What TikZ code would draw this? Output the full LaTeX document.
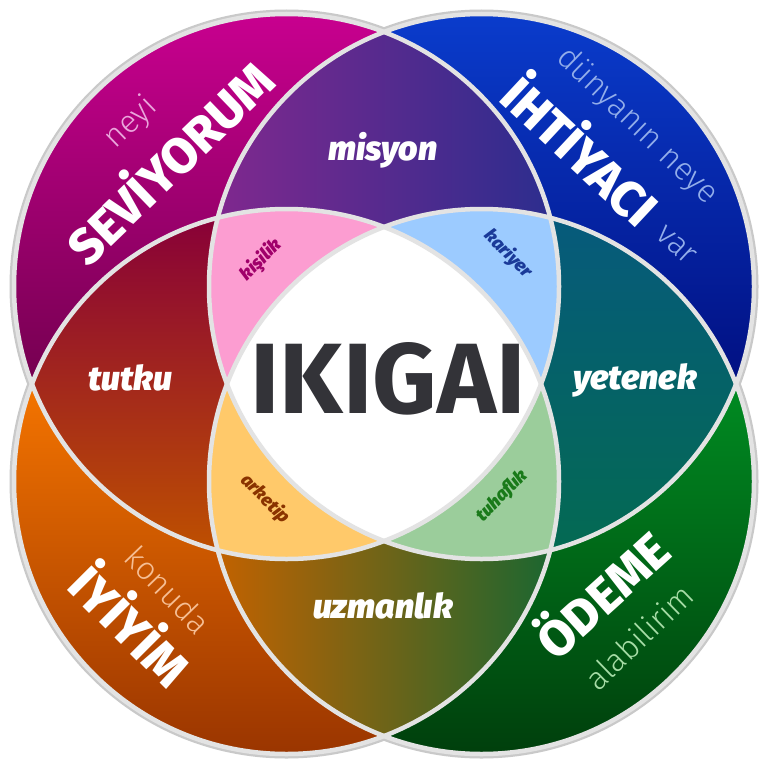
\documentclass[tikz,border=0pt]{standalone}
\usepackage{fontspec}
\setmainfont{Fira Sans}
\newfontfamily\thinfont{Fira Sans Light}
\newfontfamily\heavyfont{Fira Sans ExtraBold}
\newfontfamily\blackfont{Fira Sans Black}
\definecolor{ringshadow}{HTML}{C9C9C9}
\definecolor{linegrey}{HTML}{E3E3E3}
\definecolor{tlTop}{HTML}{C8008F}
\definecolor{tlBot}{HTML}{6A0048}
\definecolor{trTop}{HTML}{0A3CCC}
\definecolor{trBot}{HTML}{000A78}
\definecolor{blTop}{HTML}{F57500}
\definecolor{blBot}{HTML}{9A3500}
\definecolor{brTop}{HTML}{008C22}
\definecolor{brBot}{HTML}{003F0C}
\definecolor{misL}{HTML}{80288E}
\definecolor{misM}{HTML}{6636A0}
\definecolor{misR}{HTML}{2C2D8E}
\definecolor{tutT}{HTML}{880038}
\definecolor{tutM}{HTML}{A00000}
\definecolor{tutB}{HTML}{BE5000}
\definecolor{yetT}{HTML}{065A7C}
\definecolor{yetM}{HTML}{00706A}
\definecolor{yetB}{HTML}{046A52}
\definecolor{uzmL}{HTML}{C26200}
\definecolor{uzmM}{HTML}{6E6A00}
\definecolor{uzmR}{HTML}{1B6630}
\definecolor{kisF}{HTML}{FC9DD1}
\definecolor{karF}{HTML}{9CCBFF}
\definecolor{arkF}{HTML}{FFC96A}
\definecolor{tuhF}{HTML}{9BCD9B}
\definecolor{kisT}{HTML}{A0006A}
\definecolor{karT}{HTML}{1A3A99}
\definecolor{arkT}{HTML}{8A3300}
\definecolor{tuhT}{HTML}{1A7A1A}
\definecolor{ikT}{HTML}{333338}
\definecolor{neyiC}{HTML}{EAA6DC}
\definecolor{dunC}{HTML}{93AEEA}
\definecolor{konC}{HTML}{F6BE94}
\definecolor{alaC}{HTML}{A6DCA6}
\begin{document}
\begin{tikzpicture}[x=1pt,y=-1pt,
  lab/.style={text=white,font=\blackfont\itshape\fontsize{34}{34}\selectfont},
  capt/.style={text=white,font=\heavyfont\fontsize{50}{50}\selectfont},
  thin/.style={font=\thinfont\fontsize{32}{32}\selectfont},
  small/.style={font=\blackfont\itshape\fontsize{18}{18}\selectfont},
  ring/.style={line width=9pt,draw=ringshadow},
  edge/.style={line width=4.5pt,draw=linegrey}]
\def\R{272.5pt}
\fill[white] (0,0) rectangle (768,768);
\path[use as bounding box] (0,0) rectangle (768,768);
\coordinate (cTL) at (286.5,286.5);
\coordinate (cTR) at (481.5,286.5);
\coordinate (cBL) at (286.5,481.5);
\coordinate (cBR) at (481.5,481.5);
% outer halo
\foreach \c in {cTL,cTR,cBL,cBR} \draw[ring] (\c) circle[radius=\R];
% single circles
\begin{scope}\clip (cTL) circle[radius=\R];
\shade[top color=tlTop,bottom color=tlBot] (14,14) rectangle (559,430);\end{scope}
\begin{scope}\clip (cTR) circle[radius=\R];
\shade[top color=trTop,bottom color=trBot] (209,14) rectangle (754,430);\end{scope}
\begin{scope}\clip (cBL) circle[radius=\R];
\shade[top color=blTop,bottom color=blBot] (14,380) rectangle (559,754);\end{scope}
\begin{scope}\clip (cBR) circle[radius=\R];
\shade[top color=brTop,bottom color=brBot] (209,380) rectangle (754,754);\end{scope}
% pairs
\begin{scope}\clip (cTL) circle[radius=\R];\clip (cTR) circle[radius=\R];
\shade[left color=misL,middle color=misM,right color=misR] (216,28) rectangle (552,230);\end{scope}
\begin{scope}\clip (cTL) circle[radius=\R];\clip (cBL) circle[radius=\R];
\shade[top color=tutT,middle color=tutM,bottom color=tutB] (28,216) rectangle (230,552);\end{scope}
\begin{scope}\clip (cTR) circle[radius=\R];\clip (cBR) circle[radius=\R];
\shade[top color=yetT,middle color=yetM,bottom color=yetB] (538,216) rectangle (740,552);\end{scope}
\begin{scope}\clip (cBL) circle[radius=\R];\clip (cBR) circle[radius=\R];
\shade[left color=uzmL,middle color=uzmM,right color=uzmR] (216,538) rectangle (552,740);\end{scope}
% triples
\begin{scope}\clip (cTL) circle[radius=\R];\clip (cTR) circle[radius=\R];\clip (cBL) circle[radius=\R];
\fill[kisF] (0,0) rectangle (768,768);\end{scope}
\begin{scope}\clip (cTL) circle[radius=\R];\clip (cTR) circle[radius=\R];\clip (cBR) circle[radius=\R];
\fill[karF] (0,0) rectangle (768,768);\end{scope}
\begin{scope}\clip (cTL) circle[radius=\R];\clip (cBL) circle[radius=\R];\clip (cBR) circle[radius=\R];
\fill[arkF] (0,0) rectangle (768,768);\end{scope}
\begin{scope}\clip (cTR) circle[radius=\R];\clip (cBL) circle[radius=\R];\clip (cBR) circle[radius=\R];
\fill[tuhF] (0,0) rectangle (768,768);\end{scope}
% center
\begin{scope}\clip (cTL) circle[radius=\R];\clip (cTR) circle[radius=\R];\clip (cBL) circle[radius=\R];\clip (cBR) circle[radius=\R];
\fill[white] (0,0) rectangle (768,768);\end{scope}
% outlines
\foreach \c in {cTL,cTR,cBL,cBR} \draw[edge] (\c) circle[radius=\R];
% texts
\node[text=ikT,font=\bfseries\fontsize{100}{100}\selectfont] (ikigai) at (388,379) {IKIGAI};
\node[lab] (misyon) at (383,150) {misyon};
\node[lab] (tutku) at (130,378) {tutku};
\node[lab] (yetenek) at (635,380) {yetenek};
\node[lab] (uzmanlik) at (383,606) {uzmanlık};
\node[small,text=kisT,rotate=45] (kisilik) at (261,260) {kişilik};
\node[small,text=karT,rotate=-45] (kariyer) at (508,254) {kariyer};
\node[small,text=arkT,rotate=-45] (arketip) at (265,499) {arketip};
\node[small,text=tuhT,rotate=45] (tuhaflik) at (502,496) {tuhaflık};
\node[capt,rotate=44] (seviyorum) at (167,160) {SEVİYORUM};
\node[thin,text=neyiC,rotate=44] (neyi) at (131,123) {neyi};
\node[capt,rotate=-43] (ihtiyaci) at (583,148) {İHTİYACI};
\node[thin,text=dunC,rotate=-44] (dunya) at (637,126) {dünyanın neye};
\node[thin,text=dunC,rotate=-43] (var) at (676,245) {var};
\node[thin,text=konC,rotate=-46] (konuda) at (168,590) {konuda};
\node[capt,rotate=-45] (iyiyim) at (133,623) {İYİYİM};
\node[capt,rotate=42] (odeme) at (600,592) {ÖDEME};
\node[thin,text=alaC,rotate=44] (alabilirim) at (639,637) {alabilirim};
\end{tikzpicture}
\end{document}
